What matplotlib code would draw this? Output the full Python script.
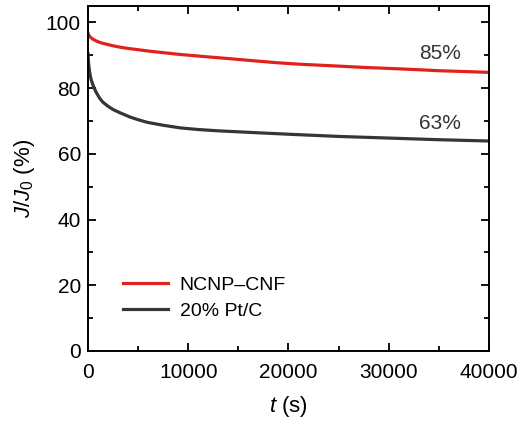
import numpy as np
import matplotlib
matplotlib.use('Agg')
import matplotlib.pyplot as plt
from matplotlib.ticker import MultipleLocator

plt.rcParams['font.family'] = ['Liberation Sans', 'DejaVu Sans']
plt.rcParams['mathtext.fontset'] = 'custom'
plt.rcParams['mathtext.rm'] = 'Liberation Sans'
plt.rcParams['mathtext.it'] = 'Liberation Sans:italic'

# time points (s) and relative current (%)
t_ncnp = [0, 100, 250, 500, 800, 1200, 1800, 2500, 3300, 4200, 5000, 6000, 7500, 9000, 10500, 12000,
          14000, 17000, 19000, 21000, 23000, 25000, 27500, 30000, 33000, 35000, 37000, 40000]
j_ncnp = [96.8, 96.1, 95.5, 94.9, 94.4, 93.9, 93.4, 92.9, 92.4, 92.0, 91.7, 91.3, 90.8, 90.3, 89.9, 89.5,
          89.0, 88.2, 87.7, 87.3, 87.0, 86.7, 86.3, 86.0, 85.6, 85.3, 85.1, 84.8]

t_ptc = [0, 50, 100, 180, 250, 350, 500, 650, 800, 1000, 1200, 1500, 2000, 2500, 3200, 4200, 5000, 5900,
         7500, 9200, 11000, 13000, 15000, 17000, 20500, 25000, 28000, 31000, 35000, 40000]
j_ptc = [90.5, 88.2, 86.6, 84.8, 83.6, 82.3, 81.0, 79.9, 78.9, 77.8, 76.8, 75.7, 74.5, 73.5, 72.5, 71.2,
         70.4, 69.6, 68.7, 67.9, 67.4, 67.0, 66.7, 66.4, 65.9, 65.3, 65.0, 64.7, 64.3, 63.9]

labels = ['NCNP\u2013CNF', '20% Pt/C']

fig = plt.figure(figsize=(5.17, 4.28), dpi=100)
ax = fig.add_axes([0.170, 0.180, 0.776, 0.806])

ax.plot(t_ncnp, j_ncnp, color='#e3211c', lw=2.3, label=labels[0])
ax.plot(t_ptc, j_ptc, color='#353535', lw=2.3, label=labels[1])

ax.set_xlim(0, 40000)
ax.set_ylim(0, 105)
ax.xaxis.set_major_locator(MultipleLocator(10000))
ax.xaxis.set_minor_locator(MultipleLocator(5000))
ax.yaxis.set_major_locator(MultipleLocator(20))
ax.yaxis.set_minor_locator(MultipleLocator(10))
ax.tick_params(which='both', direction='in', top=True, right=True, width=1.3, labelsize=15, pad=5)
ax.tick_params(axis='x', which='both', pad=9)
ax.tick_params(which='major', length=6)
ax.tick_params(which='minor', length=3.5)
for s in ax.spines.values():
    s.set_linewidth(1.4)

ax.set_xlabel('$t$ (s)', fontsize=16, labelpad=8)
ax.set_ylabel('$J$/$J_0$ (%)', fontsize=16, labelpad=6)

ax.text(0.93, 0.845, '85%', transform=ax.transAxes, ha='right', fontsize=15, color='#333333')
ax.text(0.93, 0.642, '63%', transform=ax.transAxes, ha='right', fontsize=15, color='#333333')

ax.legend(loc='lower left', bbox_to_anchor=(0.045, 0.04), frameon=False, fontsize=14,
          handlelength=2.3, handletextpad=0.6, labelspacing=0.4)

fig.savefig('out.png', dpi=100)
